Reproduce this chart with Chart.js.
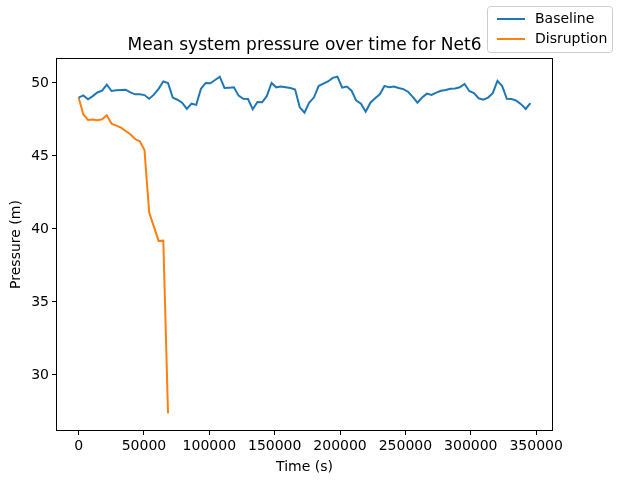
<!DOCTYPE html>
<html>
<head>
<meta charset="utf-8">
<script src="https://cdn.jsdelivr.net/npm/chart.js@4/dist/chart.umd.min.js"></script>
<style>
  html, body { margin: 0; padding: 0; background: #fff; }
  #wrap { width: 619px; height: 483px; }
</style>
</head>
<body>
<div id="wrap"><canvas id="c" width="619" height="483"></canvas></div>
<script>
// ---- data (time in seconds, pressure in m) ----
const baselineTimes = [];
for (let h = 0; h <= 96; h++) baselineTimes.push(h * 3600);
const baselineValues = [
  49.0, 49.15, 48.88, 49.1, 49.35, 49.47, 49.88, 49.45, 49.5, 49.52,
  49.54, 49.35, 49.22, 49.22, 49.17, 48.92, 49.2, 49.6, 50.1, 50.0,
  49.0, 48.85, 48.65, 48.22, 48.58, 48.5, 49.6, 50.0, 49.98, 50.2,
  50.43, 49.66, 49.68, 49.7, 49.13, 48.92, 48.9, 48.2, 48.7, 48.68,
  49.11, 50.0, 49.7, 49.75, 49.7, 49.65, 49.55, 48.33, 47.97, 48.65,
  49.0, 49.79, 49.95, 50.1, 50.35, 50.43, 49.68, 49.75, 49.47, 48.79,
  48.58, 48.03, 48.65, 48.95, 49.22, 49.79, 49.7, 49.75, 49.65, 49.58,
  49.4, 49.05, 48.65, 49.0, 49.27, 49.18, 49.34, 49.47, 49.52, 49.6,
  49.62, 49.7, 49.93, 49.45, 49.3, 48.95, 48.86, 49.0, 49.3, 50.14,
  49.79, 48.92, 48.9, 48.79, 48.55, 48.22, 48.62
];
const disruptionTimes = [];
for (let h = 0; h <= 19; h++) disruptionTimes.push(h * 3600);
const disruptionValues = [
  49.0, 47.86, 47.47, 47.49, 47.45, 47.51, 47.79, 47.21, 47.08, 46.94,
  46.71, 46.49, 46.16, 46.0, 45.41, 41.12, 40.16, 39.18, 39.2, 27.38
];
const xTickValues = [0, 50000, 100000, 150000, 200000, 250000, 300000, 350000];
const yTickValues = [30, 35, 40, 45, 50];
const seriesNames = ["Baseline", "Disruption"];
const seriesColors = ["#1f77b4", "#ff7f0e"];
const chartTitle = "Mean system pressure over time for Net6";
const xLabel = "Time (s)";
const yLabel = "Pressure (m)";

const FONT = "'DejaVu Sans', 'Liberation Sans', sans-serif";

function toPoints(xs, ys) { return xs.map((x, i) => ({ x: x, y: ys[i] })); }

const xSpan = 345600;
const xMin = -0.05 * xSpan, xMax = xSpan * 1.05;
const yMin = 26.16, yMax = 51.71;

const framePlugin = {
  id: 'frame',
  afterDraw(chart) {
    const ctx = chart.ctx, a = chart.chartArea;
    ctx.save();
    ctx.strokeStyle = '#000';
    ctx.lineWidth = 1;
    ctx.strokeRect(Math.round(a.left) + 0.5, Math.round(a.top) + 0.5,
                   Math.round(a.right - a.left) - 1, Math.round(a.bottom - a.top) - 1);
    // title
    ctx.fillStyle = '#000';
    ctx.font = '17px ' + FONT;
    ctx.textAlign = 'center';
    ctx.textBaseline = 'middle';
    ctx.fillText(chartTitle, (a.left + a.right) / 2, 46);
    // legend
    const bx = 487.5, by = 6.5, bw = 125, bh = 46, r = 3;
    ctx.beginPath();
    ctx.moveTo(bx + r, by);
    ctx.lineTo(bx + bw - r, by);
    ctx.quadraticCurveTo(bx + bw, by, bx + bw, by + r);
    ctx.lineTo(bx + bw, by + bh - r);
    ctx.quadraticCurveTo(bx + bw, by + bh, bx + bw - r, by + bh);
    ctx.lineTo(bx + r, by + bh);
    ctx.quadraticCurveTo(bx, by + bh, bx, by + bh - r);
    ctx.lineTo(bx, by + r);
    ctx.quadraticCurveTo(bx, by, bx + r, by);
    ctx.closePath();
    ctx.fillStyle = 'rgba(255,255,255,0.8)';
    ctx.fill();
    ctx.strokeStyle = '#cccccc';
    ctx.stroke();
    ctx.font = '14px ' + FONT;
    ctx.textAlign = 'left';
    seriesNames.forEach((name, i) => {
      const yy = 19 + i * 20;
      ctx.strokeStyle = seriesColors[i];
      ctx.lineWidth = 2;
      ctx.beginPath();
      ctx.moveTo(497, yy);
      ctx.lineTo(525, yy);
      ctx.stroke();
      ctx.fillStyle = '#000';
      ctx.fillText(name, 535, yy);
    });
    ctx.restore();
  }
};

new Chart(document.getElementById('c'), {
  type: 'line',
  data: {
    datasets: [
      { label: seriesNames[0], data: toPoints(baselineTimes, baselineValues),
        borderColor: seriesColors[0], backgroundColor: seriesColors[0],
        borderWidth: 2, pointRadius: 0, tension: 0, fill: false },
      { label: seriesNames[1], data: toPoints(disruptionTimes, disruptionValues),
        borderColor: seriesColors[1], backgroundColor: seriesColors[1],
        borderWidth: 2, pointRadius: 0, tension: 0, fill: false }
    ]
  },
  options: {
    responsive: false,
    animation: false,
    devicePixelRatio: 1,
    layout: { padding: { top: 58, right: 66, left: 0, bottom: 0 } },
    plugins: { legend: { display: false }, title: { display: false }, tooltip: { enabled: false } },
    scales: {
      x: {
        type: 'linear', min: xMin, max: xMax,
        afterBuildTicks(s) { s.ticks = xTickValues.map(v => ({ value: v })); },
        afterFit(s) { s.height = 52; },
        grid: { display: true, drawOnChartArea: false, drawTicks: true, tickLength: 4, color: '#000', tickColor: '#000' },
        border: { display: false },
        ticks: { color: '#000', font: { family: FONT, size: 14 }, padding: 3, maxRotation: 0, autoSkip: false,
                 callback: v => String(v) },
        title: { display: true, text: xLabel, color: '#000', font: { family: FONT, size: 14 }, padding: { top: 0, bottom: 7 } }
      },
      y: {
        type: 'linear', min: yMin, max: yMax,
        afterBuildTicks(s) { s.ticks = yTickValues.map(v => ({ value: v })); },
        afterFit(s) { s.width = 56; },
        grid: { display: true, drawOnChartArea: false, drawTicks: true, tickLength: 4, color: '#000', tickColor: '#000' },
        border: { display: false },
        ticks: { color: '#000', font: { family: FONT, size: 14 }, padding: 3, callback: v => String(v) },
        title: { display: true, text: yLabel, color: '#000', font: { family: FONT, size: 14 }, padding: { top: 8, bottom: 0 } }
      }
    }
  },
  plugins: [framePlugin]
});
</script>
</body>
</html>
